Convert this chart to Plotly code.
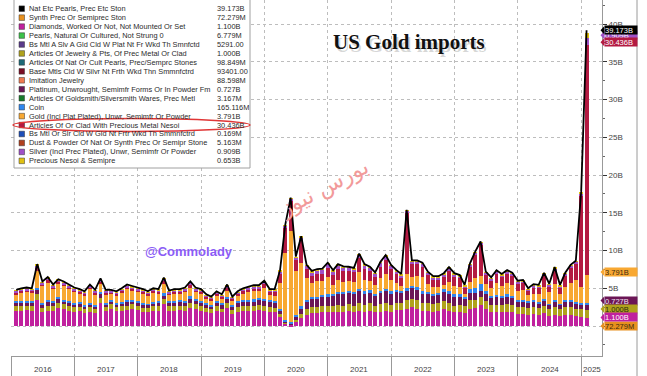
import pandas as pd
import plotly.graph_objects as go

# ---------------- data (billions USD, monthly Jan-2016 .. Jan-2025) ----------------
month_ends = pd.date_range("2016-01-31", periods=109, freq="ME")

total = [4.8, 5.0, 5.1, 5.0, 8.2, 5.9, 6.5, 5.5, 6.2, 5.9, 5.5, 5.1,
         4.9, 4.6, 5.5, 4.8, 6.3, 4.8, 4.8, 4.6, 5.0, 5.5, 5.3, 5.1,
         4.9, 4.6, 5.0, 4.9, 6.4, 4.7, 4.9, 4.9, 5.1, 5.9, 5.1, 4.9,
         4.2, 3.9, 4.6, 4.2, 5.5, 3.9, 4.6, 5.0, 5.2, 5.4, 5.4, 6.0,
         4.9, 4.9, 7.4, 13.4, 17.0, 9.2, 11.9, 8.1, 7.3, 7.55, 7.6, 8.4,
         7.4, 8.2, 7.9, 7.85, 7.7, 9.6, 8.2, 7.85, 7.1, 8.5, 9.4, 8.1,
         7.4, 6.9, 15.4, 8.7, 8.7, 8.4, 7.2, 6.6, 6.6, 7.0, 7.8, 7.0,
         6.75, 5.45, 8.3, 9.85, 11.2, 7.2, 6.45, 7.4, 6.9, 7.4, 7.05, 6.0,
         6.1, 5.0, 5.55, 5.45, 7.05, 5.6, 7.8, 5.45, 7.05, 8.1, 8.65, 17.8,
         39.173]

diamonds = [2.0, 2.0, 2.1, 2.0, 3.4, 1.9, 2.0, 2.0, 2.4, 2.3, 2.0, 1.9,
            2.0, 1.7, 1.9, 1.7, 3.0, 2.0, 2.3, 2.0, 2.0, 2.1, 2.3, 2.1,
            1.9, 1.9, 2.0, 2.0, 2.9, 2.0, 2.0, 2.1, 2.0, 2.4, 2.3, 2.0,
            1.9, 1.7, 2.0, 1.8, 2.4, 1.6, 1.9, 2.0, 2.0, 2.0, 2.1, 2.0,
            1.9, 1.8, 1.2, 0.3, 0.15, 0.5, 1.0, 1.5, 1.7, 1.7, 1.8, 1.8,
            1.9, 1.9, 1.8, 2.0, 1.8, 2.0, 1.9, 2.0, 1.8, 1.9, 2.0, 1.9,
            2.1, 2.1, 2.3, 2.5, 2.3, 2.0, 2.0, 1.9, 2.0, 2.2, 2.0, 1.8,
            1.8, 1.7, 2.3, 2.4, 2.8, 2.2, 1.8, 1.8, 1.8, 1.9, 1.8, 1.6,
            1.6, 1.5, 1.6, 1.5, 1.7, 1.3, 1.5, 1.3, 1.5, 1.5, 1.3, 1.2,
            1.100]

jewelry = [0.6, 0.6, 0.6, 0.6, 0.9, 0.5, 0.7, 0.6, 0.7, 0.6, 0.6, 0.6,
           0.5, 0.5, 0.6, 0.5, 0.7, 0.5, 0.6, 0.5, 0.6, 0.6, 0.6, 0.6,
           0.5, 0.5, 0.6, 0.6, 0.7, 0.6, 0.6, 0.6, 0.6, 0.7, 0.6, 0.6,
           0.5, 0.5, 0.6, 0.5, 0.7, 0.5, 0.6, 0.6, 0.6, 0.6, 0.7, 0.6,
           0.6, 0.6, 0.4, 0.1, 0.1, 0.3, 0.6, 0.7, 0.8, 0.8, 0.8, 0.8,
           0.8, 0.9, 0.9, 0.9, 0.9, 1.0, 0.9, 1.0, 0.9, 1.0, 1.0, 0.9,
           1.0, 1.0, 1.1, 1.1, 1.1, 1.0, 1.0, 1.0, 1.0, 1.1, 1.0, 0.9,
           1.0, 0.9, 1.1, 1.1, 1.1, 1.1, 1.0, 1.0, 1.0, 1.0, 1.0, 0.9,
           0.9, 0.9, 0.9, 0.9, 1.0, 0.9, 1.0, 0.9, 1.0, 1.0, 1.0, 1.1,
           1.000]

platinum = [0.4, 0.4, 0.4, 0.4, 0.5, 0.4, 0.5, 0.4, 0.5, 0.4, 0.4, 0.4,
            0.4, 0.4, 0.4, 0.4, 0.5, 0.4, 0.3, 0.4, 0.4, 0.5, 0.4, 0.4,
            0.4, 0.4, 0.4, 0.5, 0.5, 0.5, 0.5, 0.5, 0.5, 0.6, 0.5, 0.5,
            0.5, 0.4, 0.5, 0.5, 0.6, 0.5, 0.6, 0.7, 0.7, 0.7, 0.7, 0.8,
            0.7, 0.7, 0.5, 0.2, 0.1, 0.4, 0.7, 1.0, 1.1, 1.1, 1.2, 1.3,
            1.3, 1.4, 1.5, 1.5, 1.5, 1.6, 1.5, 1.4, 1.3, 1.5, 1.6, 1.5,
            1.4, 1.3, 1.3, 1.4, 1.4, 1.3, 1.2, 1.1, 1.1, 1.2, 1.3, 1.2,
            1.1, 1.0, 1.0, 0.9, 0.8, 0.9, 0.9, 1.0, 0.9, 1.0, 0.9, 0.8,
            0.7, 0.7, 0.7, 0.6, 0.7, 0.6, 0.7, 0.6, 0.7, 0.7, 0.7, 0.6,
            0.727]

coin = [0.3, 0.3, 0.2, 0.3, 0.3, 0.3, 0.3, 0.3, 0.3, 0.2, 0.3, 0.2,
        0.3, 0.2, 0.2, 0.2, 0.3, 0.2, 0.2, 0.2, 0.2, 0.2, 0.2, 0.2,
        0.2, 0.15, 0.2, 0.2, 0.25, 0.2, 0.15, 0.2, 0.2, 0.25, 0.2, 0.2,
        0.2, 0.15, 0.2, 0.2, 0.2, 0.15, 0.2, 0.2, 0.2, 0.25, 0.2, 0.2,
        0.2, 0.2, 0.2, 0.15, 0.15, 0.2, 0.3, 0.3, 0.3, 0.3, 0.3, 0.3,
        0.3, 0.35, 0.3, 0.3, 0.3, 0.35, 0.3, 0.35, 0.3, 0.3, 0.35, 0.3,
        0.3, 0.3, 0.3, 0.3, 0.4, 0.3, 0.3, 0.3, 0.3, 0.4, 0.3, 0.3,
        0.3, 0.3, 0.5, 0.6, 0.9, 0.4, 0.3, 0.3, 0.3, 0.3, 0.3, 0.2,
        0.2, 0.2, 0.2, 0.2, 0.2, 0.15, 0.2, 0.15, 0.2, 0.2, 0.2, 0.2,
        0.165]

gold = [0.85, 1.05, 1.15, 1.05, 2.25, 2.15, 2.25, 1.55, 1.65, 1.75, 1.55, 1.35,
        1.05, 1.3, 1.75, 1.35, 1.1, 1.05, 0.85, 0.9, 1.15, 1.45, 1.15, 1.15,
        1.25, 1.0, 1.15, 0.95, 1.25, 0.75, 1.0, 0.85, 1.15, 1.15, 0.85, 0.95,
        0.45, 0.55, 0.65, 0.55, 0.8, 0.55, 0.65, 0.75, 0.95, 1.05, 0.9, 1.45,
        0.65, 0.65, 3.35, 8.9, 12.15, 5.85, 5.75, 2.85, 1.85, 2.0, 1.85, 2.25,
        1.15, 1.5, 1.35, 1.2, 1.35, 2.2, 1.55, 1.25, 1.15, 1.65, 2.0, 1.55,
        0.85, 0.55, 1.85, 1.25, 1.45, 1.85, 1.05, 0.85, 0.75, 0.55, 1.25, 1.15,
        1.0, 0.4, 0.95, 1.4, 1.05, 0.95, 1.0, 1.65, 1.35, 1.55, 1.5, 1.15,
        1.35, 0.75, 0.9, 1.0, 1.6, 1.5, 2.15, 1.35, 1.8, 2.35, 2.9, 2.1,
        3.791]

clad = [0.3, 0.3, 0.3, 0.3, 0.4, 0.3, 0.4, 0.3, 0.3, 0.3, 0.3, 0.3,
        0.3, 0.2, 0.3, 0.3, 0.3, 0.3, 0.2, 0.3, 0.3, 0.3, 0.3, 0.3,
        0.3, 0.3, 0.3, 0.3, 0.4, 0.3, 0.3, 0.3, 0.3, 0.4, 0.3, 0.3,
        0.3, 0.3, 0.3, 0.3, 0.4, 0.3, 0.3, 0.4, 0.4, 0.4, 0.4, 0.5,
        0.4, 0.5, 1.3, 3.3, 3.9, 1.6, 3.0, 1.2, 0.9, 1.0, 1.0, 1.3,
        1.3, 1.5, 1.4, 1.4, 1.3, 1.8, 1.4, 1.3, 1.1, 1.5, 1.8, 1.4,
        1.2, 1.1, 8.1, 1.6, 1.5, 1.4, 1.2, 1.0, 1.0, 1.1, 1.4, 1.2,
        1.1, 0.7, 2.0, 3.0, 4.2, 1.2, 1.0, 1.2, 1.1, 1.2, 1.1, 0.9,
        0.9, 0.6, 0.8, 0.8, 1.4, 0.8, 1.8, 0.8, 1.4, 1.9, 2.1, 12.0,
        30.436]

silver = [0.2, 0.2, 0.2, 0.2, 0.3, 0.2, 0.2, 0.2, 0.2, 0.2, 0.2, 0.2,
          0.2, 0.15, 0.2, 0.2, 0.25, 0.2, 0.2, 0.15, 0.2, 0.2, 0.2, 0.2,
          0.2, 0.2, 0.2, 0.2, 0.25, 0.2, 0.2, 0.2, 0.2, 0.25, 0.2, 0.2,
          0.2, 0.15, 0.2, 0.2, 0.25, 0.15, 0.2, 0.2, 0.2, 0.25, 0.25, 0.3,
          0.3, 0.3, 0.3, 0.3, 0.3, 0.2, 0.4, 0.4, 0.5, 0.5, 0.5, 0.5,
          0.5, 0.5, 0.5, 0.4, 0.4, 0.5, 0.5, 0.4, 0.4, 0.5, 0.5, 0.4,
          0.4, 0.4, 0.3, 0.4, 0.4, 0.4, 0.3, 0.3, 0.3, 0.3, 0.4, 0.3,
          0.3, 0.3, 0.3, 0.3, 0.2, 0.3, 0.3, 0.3, 0.3, 0.3, 0.3, 0.3,
          0.3, 0.2, 0.3, 0.3, 0.3, 0.2, 0.3, 0.2, 0.3, 0.3, 0.3, 0.4,
          0.909]

nesoi = [0.05, 0.05, 0.05, 0.05, 0.05, 0.05, 0.05, 0.05, 0.05, 0.05, 0.05, 0.05,
         0.05, 0.05, 0.05, 0.05, 0.05, 0.05, 0.05, 0.05, 0.05, 0.05, 0.05, 0.05,
         0.05, 0.05, 0.05, 0.05, 0.05, 0.05, 0.05, 0.05, 0.05, 0.05, 0.05, 0.05,
         0.05, 0.05, 0.05, 0.05, 0.05, 0.05, 0.05, 0.05, 0.05, 0.05, 0.05, 0.05,
         0.05, 0.05, 0.05, 0.05, 0.05, 0.05, 0.05, 0.05, 0.05, 0.05, 0.05, 0.05,
         0.05, 0.05, 0.05, 0.05, 0.05, 0.05, 0.05, 0.05, 0.05, 0.05, 0.05, 0.05,
         0.05, 0.05, 0.05, 0.05, 0.05, 0.05, 0.05, 0.05, 0.05, 0.05, 0.05, 0.05,
         0.05, 0.05, 0.05, 0.05, 0.05, 0.05, 0.05, 0.05, 0.05, 0.05, 0.05, 0.05,
         0.05, 0.05, 0.05, 0.05, 0.05, 0.05, 0.05, 0.05, 0.05, 0.05, 0.05, 0.1,
         0.653]

legend_names = ["Nat Etc Pearls, Prec Etc Ston",
                "Synth Prec Or Semiprec Ston",
                "Diamonds, Worked Or Not, Not Mounted Or Set",
                "Pearls, Natural Or Cultured, Not Strung 0",
                "Bs Mtl A Slv A Gld Cld W Plat Nt Fr Wkd Th Smnfctd",
                "Articles Of Jewelry & Pts, Of Prec Metal Or Clad",
                "Articles Of Nat Or Cult Pearls, Prec/Semprc Stones",
                "Base Mtls Cld W Silvr Nt Frth Wkd Thn Smmnfctrd",
                "Imitation Jewelry",
                "Platinum, Unwrought, Semimfr Forms Or In Powder Fm",
                "Articles Of Goldsmith/Silversmith Wares, Prec Metl",
                "Coin",
                "Gold (Incl Plat Plated), Unwr, Semimfr Or Powder",
                "Articles Of Or Clad With Precious Metal Nesoi",
                "Bs Mtl Or Slr Cld W Gld Nt Frtr Wkd Th Smmnfctrd",
                "Dust & Powder Of Nat Or Synth Prec Or Semipr Stone",
                "Silver (Incl Prec Plated), Unwr, Semimfr Or Powder",
                "Precious Nesoi & Semipre"]
legend_values = ["39.173B", "72.279M", "1.100B", "6.779M", "5291.00", "1.000B",
                 "98.849M", "93401.00", "88.598M", "0.727B", "3.167M", "165.116M",
                 "3.791B", "30.436B", "0.169M", "5.163M", "0.909B", "0.653B"]
legend_colors = ["#000000", "#e8901e", "#c0219e", "#3cc24a", "#5a3a8a", "#b0a21c",
                 "#1d6b78", "#7a0e26", "#f07a50", "#6b1656", "#187a2a", "#2f86ef",
                 "#f8a832", "#b31a42", "#1e4eb8", "#b0401e", "#a050c8", "#e0c010"]

years = [str(y) for y in range(2016, 2026)]

# ---------------- figure ----------------
W, H = 647, 376
ML, MR, MT, MB = 11, 45, 0, 20
PW, PH = W - ML - MR, H - MT - MB


def px(x):
    return (x - ML) / PW


def py(y):
    return (H - MB - y) / PH


fig = go.Figure()
stack = [(diamonds, legend_colors[2], legend_names[2]),
         (jewelry, legend_colors[5], legend_names[5]),
         (platinum, legend_colors[9], legend_names[9]),
         (coin, legend_colors[11], legend_names[11]),
         (gold, legend_colors[12], legend_names[12]),
         (clad, legend_colors[13], legend_names[13]),
         (silver, legend_colors[16], legend_names[16]),
         (nesoi, legend_colors[17], legend_names[17])]
for vals, col, name in stack:
    fig.add_trace(go.Bar(x=month_ends, y=vals, name=name,
                         marker=dict(color=col, line=dict(width=0))))
fig.add_trace(go.Scatter(x=month_ends, y=total, mode="lines", name=legend_names[0],
                         line=dict(color="#000000", width=1.8)))

shapes = []
annotations = []

# right frame line
shapes.append(dict(type="line", xref="paper", yref="paper", x0=px(637), x1=px(637),
                   y0=py(376), y1=py(0), line=dict(color="#9a9a9a", width=1)))

# legend box
shapes.append(dict(type="rect", xref="paper", yref="paper", x0=px(14), x1=px(250),
                   y0=py(168), y1=py(-1), fillcolor="white",
                   line=dict(color="#a0a0a0", width=1), layer="above"))
for k, (nm, val, col) in enumerate(zip(legend_names, legend_values, legend_colors)):
    yc = 8.7 + 8.95 * k
    shapes.append(dict(type="rect", xref="paper", yref="paper", x0=px(19), x1=px(24.5),
                       y0=py(yc + 2.8), y1=py(yc - 2.8), fillcolor=col,
                       line=dict(color="#333333", width=0.5), layer="above"))
    annotations.append(dict(xref="paper", yref="paper", x=px(27), y=py(yc), text=nm,
                            showarrow=False, xanchor="left", yanchor="middle",
                            font=dict(family="Liberation Sans, Arial", size=7.4, color="#2a2a2a")))
    annotations.append(dict(xref="paper", yref="paper", x=px(215), y=py(yc), text=val,
                            showarrow=False, xanchor="left", yanchor="middle",
                            font=dict(family="Liberation Sans, Arial", size=7.4, color="#2a2a2a")))

# red ellipse around "Articles Of Or Clad ..."
shapes.append(dict(type="circle", xref="paper", yref="paper", x0=px(13), x1=px(250),
                   y0=py(131.5), y1=py(118.5), line=dict(color="#e03636", width=1.5),
                   layer="above"))

# year labels
mids = ["2016-07-02", "2017-07-02", "2018-07-02", "2019-07-02", "2020-07-02",
        "2021-07-02", "2022-07-02", "2023-07-02", "2024-07-02", "2025-03-05"]
for yr, m in zip(years, mids):
    annotations.append(dict(xref="x", yref="paper", x=m, y=py(369), text=yr,
                            showarrow=False, xanchor="center", yanchor="middle",
                            font=dict(family="Liberation Sans, Arial", size=8, color="#444")))

# right-edge value labels (value position in axis units, text, bg, fg)
end_labels = [(0.0, "72.279M", "#e8901e", "#3a2a10"),
              (3.38, "0.727B", "#6b1656", "#f0e0f0"),
              (2.25, "1.000B", "#b0a21c", "#2a2a10"),
              (1.13, "1.100B", "#c0219e", "#ffffff"),
              (7.15, "3.791B", "#f8a832", "#3a2a10"),
              (38.5, "0.909B", "#a050c8", "#ffffff"),
              (39.17, "39.173B", "#000000", "#ffffff"),
              (37.6, "30.436B", "#b31a42", "#ffffff")]
unit = 8 / (PH / (43.18 + 3.97))  # 8 px in axis units
for yv, txt, bg, fg in end_labels:
    shapes.append(dict(type="path", xref="paper", yref="y",
                       path=f"M {px(600.5)},{yv} L {px(604.2)},{yv + unit / 2} "
                            f"L {px(604.2)},{yv - unit / 2} Z",
                       fillcolor=bg, line=dict(width=0), layer="above"))
    annotations.append(dict(xref="paper", yref="y", x=px(604), y=yv, text=txt,
                            showarrow=False, xanchor="left", yanchor="middle",
                            width=32, height=8, align="left", bgcolor=bg, borderpad=0,
                            font=dict(family="Liberation Sans, Arial", size=7.5, color=fg)))

# title with soft shadow
annotations.append(dict(xref="paper", yref="paper", x=px(410.5), y=py(44.5),
                        text="<b>US Gold imports</b>", showarrow=False,
                        xanchor="center", yanchor="middle",
                        font=dict(family="Liberation Serif, Times New Roman", size=21,
                                  color="rgba(0,0,0,0.16)")))
annotations.append(dict(xref="paper", yref="paper", x=px(408.5), y=py(42.5),
                        text="<b>US Gold imports</b>", showarrow=False,
                        xanchor="center", yanchor="middle",
                        font=dict(family="Liberation Serif, Times New Roman", size=21,
                                  color="#111111")))
# handle
annotations.append(dict(xref="paper", yref="paper", x=px(189), y=py(252),
                        text="<b>@Commolady</b>", showarrow=False,
                        xanchor="center", yanchor="middle",
                        font=dict(family="Liberation Sans, Arial", size=13, color="#8b5cf6")))
# watermark
annotations.append(dict(xref="paper", yref="paper", x=px(324), y=py(188),
                        text="بورس نیوز", showarrow=False, textangle=-28,
                        xanchor="center", yanchor="middle",
                        font=dict(family="DejaVu Sans", size=22, color="#f29a9a")))

fig.update_layout(
    width=W, height=H,
    margin=dict(l=ML, r=MR, t=MT, b=MB),
    paper_bgcolor="white", plot_bgcolor="white",
    barmode="stack", bargap=0.2, showlegend=False,
    font=dict(family="Liberation Sans, Arial", size=8, color="#444"),
    shapes=shapes, annotations=annotations,
    xaxis=dict(type="date", range=["2016-01-01", "2025-04-30"],
               tickvals=[f"{y}-01-01" for y in years], showticklabels=False,
               ticks="outside", ticklen=20, tickcolor="#999", tickwidth=1,
               showgrid=True, gridcolor="#bdbdbd", griddash="dot", gridwidth=1,
               showline=True, linecolor="#999", zeroline=False),
    yaxis=dict(side="right", range=[-3.97, 43.18],
               tickvals=[0, 5, 10, 15, 20, 25, 30, 35, 40],
               ticktext=["", "5B", "10B", "15B", "20B", "25B", "30B", "35B", "40B"],
               ticks="outside", ticklen=4, tickcolor="#333",
               tickfont=dict(family="Liberation Sans, Arial", size=8, color="#444"),
               showgrid=True, gridcolor="#bdbdbd", griddash="dot", gridwidth=1,
               showline=True, linecolor="#999", zeroline=False,
               minor=dict(tickvals=[-2.5, 2.5, 7.5, 12.5, 17.5, 22.5, 27.5, 32.5, 37.5, 42.5],
                          ticks="outside", ticklen=2, tickcolor="#666", showgrid=False)),
)

fig.write_html("out.html",
               config={"displayModeBar": False},
               post_script="document.body.style.margin='0px';"
                           "document.body.style.padding='0px';"
                           "document.body.style.overflow='hidden';")
